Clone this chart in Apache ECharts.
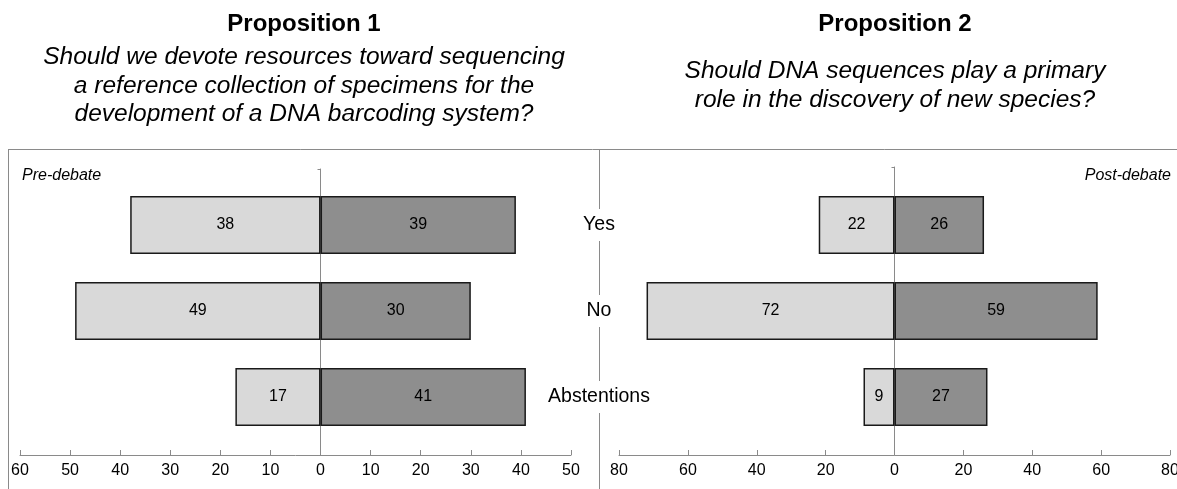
<!DOCTYPE html>
<html>
<head>
<meta charset="utf-8">
<script src="https://cdn.jsdelivr.net/npm/echarts@6/dist/echarts.min.js"></script>
<style>
  html, body { margin: 0; padding: 0; background: #fff; }
  #chart { width: 1177px; height: 489px; }
</style>
</head>
<body>
<div id="chart"></div>
<script>
const categories = ['Yes', 'No', 'Abstentions']
const p1Pre = [38, 49, 17]
const p1Post = [39, 30, 41]
const p2Pre = [22, 72, 9]
const p2Post = [26, 59, 27]

const LIGHT = '#d9d9d9'
const DARK = '#8e8e8e'
const AXIS = '#8a8a8a'
const FONT = 'Liberation Sans, Arial, sans-serif'

const chart = echarts.init(document.getElementById('chart'))

function valueAxis(gridIndex, min, max, interval) {
  return {
    type: 'value', gridIndex, min, max, interval, offset: 15,
    axisLine: { show: true, onZero: false, lineStyle: { color: AXIS, width: 1 } },
    axisTick: { show: true, inside: true, length: 5, lineStyle: { color: AXIS } },
    axisLabel: { color: '#000', fontSize: 16, fontFamily: FONT, margin: 8,
      formatter: v => Math.abs(v) },
    splitLine: { show: false },
  }
}

function zeroAxisX(gridIndex, min, max) {
  return { type: 'value', gridIndex, min, max, show: false }
}

function zeroAxisY(gridIndex) {
  return {
    type: 'value', gridIndex, min: 0, max: 1, interval: 1,
    axisLine: { show: true, onZero: true, lineStyle: { color: AXIS, width: 1 } },
    axisTick: { show: true, length: 3, lineStyle: { color: AXIS } },
    axisLabel: { show: false },
    splitLine: { show: false },
  }
}

function barSeries(xi, yi, data, color, negative) {
  return {
    type: 'bar', xAxisIndex: xi, yAxisIndex: yi,
    data: data.map(v => negative ? -v : v),
    barWidth: 58, barGap: '-100%',
    itemStyle: { color, borderColor: '#1a1a1a', borderWidth: 1.5 },
    label: { show: true, position: 'inside', color: '#000', fontSize: 16, fontFamily: FONT,
      formatter: p => Math.abs(p.value) },
    silent: true,
  }
}

const gridBase = { outerBoundsMode: 'none', containLabel: false }

const option = {
  animation: false,
  backgroundColor: '#fff',
  grid: [
    { ...gridBase, left: 20, right: 606, top: 182, bottom: 49 },
    { ...gridBase, left: 619, right: 7, top: 182, bottom: 49 },
    { ...gridBase, left: 20, right: 606, top: 169, bottom: 34 },
    { ...gridBase, left: 619, right: 7, top: 167, bottom: 34 },
  ],
  xAxis: [
    valueAxis(0, -60, 50, 10),
    valueAxis(1, -80, 80, 20),
    zeroAxisX(2, -60, 50),
    zeroAxisX(3, -80, 80),
  ],
  yAxis: [
    { type: 'category', gridIndex: 0, data: categories, inverse: true, show: false },
    {
      type: 'category', gridIndex: 1, data: categories, inverse: true, position: 'left',
      axisLine: { show: false }, axisTick: { show: false },
      axisLabel: { color: '#000', fontSize: 19.5, fontFamily: FONT, align: 'center', margin: 20,
        backgroundColor: '#fff', padding: [6, 3] },
      z: 10,
    },
    zeroAxisY(2),
    zeroAxisY(3),
  ],
  series: [
    barSeries(0, 0, p1Pre, LIGHT, true),
    barSeries(0, 0, p1Post, DARK, false),
    barSeries(1, 1, p2Pre, LIGHT, true),
    barSeries(1, 1, p2Post, DARK, false),
  ],
  graphic: [
    { type: 'line', shape: { x1: 8, y1: 149.5, x2: 1177, y2: 149.5 }, style: { stroke: AXIS, lineWidth: 1 } },
    { type: 'line', shape: { x1: 8.5, y1: 149, x2: 8.5, y2: 489 }, style: { stroke: AXIS, lineWidth: 1 } },
    { type: 'line', z: -1, shape: { x1: 599.5, y1: 149, x2: 599.5, y2: 489 }, style: { stroke: AXIS, lineWidth: 1 } },
    { type: 'text', style: { text: 'Proposition 1', x: 304, y: 24, textAlign: 'center', textVerticalAlign: 'middle',
      font: 'bold 24px ' + FONT, fill: '#000' } },
    { type: 'text', style: { text: 'Should we devote resources toward sequencing\na reference collection of specimens for the\ndevelopment of a DNA barcoding system?',
      x: 304, y: 43, textAlign: 'center', textVerticalAlign: 'top', lineHeight: 28.5,
      font: 'italic 24.5px ' + FONT, fill: '#000' } },
    { type: 'text', style: { text: 'Proposition 2', x: 895, y: 24, textAlign: 'center', textVerticalAlign: 'middle',
      font: 'bold 24px ' + FONT, fill: '#000' } },
    { type: 'text', style: { text: 'Should DNA sequences play a primary\nrole in the discovery of new species?',
      x: 895, y: 57, textAlign: 'center', textVerticalAlign: 'top', lineHeight: 28.5,
      font: 'italic 24.5px ' + FONT, fill: '#000' } },
    { type: 'text', style: { text: 'Pre-debate', x: 22, y: 176, textAlign: 'left', textVerticalAlign: 'middle',
      font: 'italic 16px ' + FONT, fill: '#000' } },
    { type: 'text', style: { text: 'Post-debate', x: 1171, y: 176, textAlign: 'right', textVerticalAlign: 'middle',
      font: 'italic 16px ' + FONT, fill: '#000' } },
  ],
}

chart.setOption(option)
</script>
</body>
</html>
